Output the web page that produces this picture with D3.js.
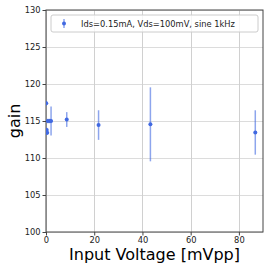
<!DOCTYPE html>
<html>
<head>
    <meta charset="UTF-8" />
    <style>
        body { margin: 0; background: #fff; }
        text { font-family: "DejaVu Sans", sans-serif; }
    </style>
</head>
<body>
    <div id="chart"></div>
    <script src="https://d3js.org/d3.v7.min.js"></script>
    <script>
        // valeurs
        const inputV = [0.1, 0.3, 0.5, 0.8, 1.6, 2.1, 8.6, 21.8, 43.3, 86.8];
        const gain = [117.4, 113.8, 113.4, 115.0, 115.0, 115.0, 115.2, 114.45, 114.55, 113.45];
        const gainErr = [0.3, 0.3, 0.3, 0.3, 0.3, 1.95, 1.0, 2.0, 5.0, 3.0];
        const xTicks = [0, 20, 40, 60, 80];
        const yTicks = [100, 105, 110, 115, 120, 125, 130];
        const legendLabel = "Ids=0.15mA, Vds=100mV, sine 1kHz";

        let width = 270,
            height = 270;
        let margin = { left: 46, right: 7, top: 10, bottom: 38 };
        let color = "#4169e1";

        let svg = d3.select("#chart")
            .append("svg")
            .attr("width", width)
            .attr("height", height);

        let x = d3.scaleLinear()
            .domain([0, 90])
            .range([margin.left, width - margin.right]);

        let y = d3.scaleLinear()
            .domain([100, 130])
            .range([height - margin.bottom, margin.top]);

        // grille
        svg.append("g")
            .selectAll("line")
            .data(yTicks)
            .join("line")
            .attr("x1", x(0)).attr("x2", x(90))
            .attr("y1", d => Math.round(y(d)) + 0.5)
            .attr("y2", d => Math.round(y(d)) + 0.5)
            .attr("stroke", "#dcdcdc");
        svg.append("g")
            .selectAll("line")
            .data(xTicks)
            .join("line")
            .attr("y1", y(100)).attr("y2", y(130))
            .attr("x1", d => Math.round(x(d)) + 0.5)
            .attr("x2", d => Math.round(x(d)) + 0.5)
            .attr("stroke", "#d0d0d0");

        // axes
        let xAxis = svg.append("g")
            .attr("transform", "translate(0," + y(100) + ")")
            .call(d3.axisBottom(x).tickValues(xTicks).tickSize(3.5).tickPadding(1.5));
        let yAxis = svg.append("g")
            .attr("transform", "translate(" + x(0) + ",0)")
            .call(d3.axisLeft(y).tickValues(yTicks).tickSize(3.5).tickPadding(2));
        [xAxis, yAxis].forEach(a => {
            a.selectAll("text").style("font-size", "8.3px").attr("fill", "#222");
            a.selectAll("line").attr("stroke", "#444");
            a.select(".domain").remove();
        });

        // cadre
        svg.append("rect")
            .attr("x", x(0)).attr("y", y(130))
            .attr("width", x(90) - x(0))
            .attr("height", y(100) - y(130))
            .attr("fill", "none")
            .attr("stroke", "#444")
            .attr("stroke-width", 1);

        svg.append("clipPath").attr("id", "clip")
            .append("rect")
            .attr("x", x(0)).attr("y", y(130))
            .attr("width", x(90) - x(0))
            .attr("height", y(100) - y(130));

        let plot = svg.append("g").attr("clip-path", "url(#clip)");

        // barres d'erreur
        plot.selectAll(".err")
            .data(inputV)
            .join("line")
            .attr("class", "err")
            .attr("x1", d => x(d)).attr("x2", d => x(d))
            .attr("y1", (d, i) => y(gain[i] - gainErr[i]))
            .attr("y2", (d, i) => y(gain[i] + gainErr[i]))
            .attr("stroke", color)
            .attr("stroke-opacity", 0.6)
            .attr("stroke-width", 1.5);

        // points
        plot.selectAll(".pt")
            .data(inputV)
            .join("circle")
            .attr("class", "pt")
            .attr("cx", d => x(d))
            .attr("cy", (d, i) => y(gain[i]))
            .attr("r", 2)
            .attr("fill", color);

        // legende
        let lg = svg.append("g").attr("transform", "translate(51,15)");
        lg.append("rect")
            .attr("width", 207).attr("height", 17)
            .attr("rx", 2)
            .attr("fill", "#fff").attr("fill-opacity", 0.8)
            .attr("stroke", "#ccc");
        lg.append("line")
            .attr("x1", 13).attr("x2", 13)
            .attr("y1", 4).attr("y2", 13)
            .attr("stroke", color).attr("stroke-opacity", 0.6)
            .attr("stroke-width", 1.5);
        lg.append("circle")
            .attr("cx", 13).attr("cy", 8.5).attr("r", 2)
            .attr("fill", color);
        lg.append("text")
            .attr("x", 30).attr("y", 11.6)
            .style("font-size", "8.3px")
            .attr("fill", "#222")
            .text(legendLabel);

        // titres des axes
        svg.append("text")
            .attr("x", (x(0) + x(90)) / 2)
            .attr("y", 260)
            .attr("text-anchor", "middle")
            .style("font-size", "16px")
            .text("Input Voltage [mVpp]");
        svg.append("text")
            .attr("transform", "translate(20," + (y(115)) + ") rotate(-90)")
            .attr("text-anchor", "middle")
            .style("font-size", "16px")
            .text("gain");
    </script>
</body>
</html>
